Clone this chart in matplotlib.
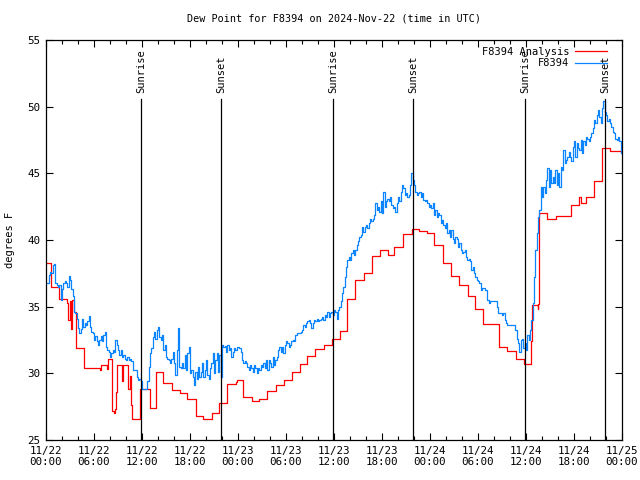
import numpy as np
import matplotlib
matplotlib.use('Agg')
import matplotlib.pyplot as plt

plt.rcParams['font.family'] = ['DejaVu Sans Mono']

# observations every 10 minutes from 11/22 00:00 UTC (deg F)
obs_day1 = [36.8, 36.8, 37.4, 37.6, 37.5, 38.1, 38.2, 36.8, 36.6, 36.5, 36.6, 35.5,
            36.3, 36.8, 36.9, 36.8, 36.5, 37.3, 37.0, 36.3, 35.8, 34.6, 34.5, 34.1,
            33.4, 33.0, 33.3, 34.1, 33.5, 33.8, 33.6, 33.9, 34.3, 33.5, 33.1, 33.0,
            32.5, 32.8, 32.4, 32.1, 32.5, 32.8, 32.4, 32.9, 33.1, 32.0, 31.75, 31.6,
            31.25, 31.5, 31.75, 31.6, 32.5, 32.1, 31.75, 31.4, 31.75, 31.25, 31.4, 31.1,
            31.0, 31.25, 31.0, 31.1, 30.9, 30.25, 30.25, 30.25, 29.75, 29.5, 29.6, 29.4,
            28.8, 28.8, 28.8, 28.8, 29.4, 30.5, 31.5, 31.9, 32.75, 33.1, 32.6, 33.25,
            33.45, 32.75, 32.5, 32.9, 31.75, 32.1, 31.25, 31.1, 31.0, 30.75, 31.1, 31.6,
            30.75, 29.9, 31.75, 33.4, 30.5, 30.4, 30.75, 30.4, 31.4, 30.25, 31.5, 32.0,
            30.0, 30.25, 29.75, 29.1, 30.1, 29.6, 30.5, 29.75, 30.1, 30.75, 29.75, 30.25,
            31.0, 29.9, 29.6, 30.4, 30.75, 31.5, 30.0, 31.0, 31.5, 30.1, 31.4, 29.75,
            32.1, 32.0, 32.05, 31.6, 32.1, 31.75, 31.9, 31.25, 31.6, 31.9, 31.75, 31.95]
obs_day2 = [32.0, 31.9, 31.6, 31.0, 30.75, 30.9, 30.75, 30.5, 30.25, 30.6, 30.4, 30.1,
            30.6, 30.4, 30.0, 30.4, 30.25, 30.6, 30.5, 30.75, 30.4, 31.0, 30.25, 31.0,
            30.75, 30.5, 31.25, 30.6, 31.0, 31.25, 31.75, 32.0, 31.6, 32.0, 31.5, 32.1,
            32.4, 32.25, 32.0, 32.1, 32.4, 32.5, 32.4, 32.9, 33.0, 33.0, 33.0, 33.1,
            33.25, 33.6, 33.5, 33.75, 33.9, 34.0, 33.75, 33.4, 33.75, 34.0, 33.9, 34.1,
            33.9, 34.0, 34.1, 34.25, 34.0, 34.4, 34.25, 34.6, 34.25, 34.5, 34.6, 34.4,
            34.75, 34.6, 34.1, 34.75, 35.0, 35.4, 36.0, 36.5, 37.25, 38.0, 38.5, 38.75,
            38.5, 39.0, 39.25, 38.9, 39.25, 39.6, 39.9, 40.25, 40.4, 41.0, 40.6, 41.0,
            41.1, 40.9, 41.25, 41.6, 41.4, 41.6, 41.9, 42.75, 42.25, 42.5, 42.1, 42.9,
            42.0, 43.6, 42.5, 42.9, 43.1, 42.9, 43.25, 42.6, 42.4, 42.5, 42.1, 42.75,
            43.25, 42.9, 43.6, 44.1, 43.9, 43.4, 43.5, 43.25, 43.4, 44.1, 45.0, 44.5,
            44.1, 43.6, 43.4, 43.5, 43.6, 43.25, 43.5, 43.0, 42.9, 43.0, 42.75, 42.5]
obs_day3 = [42.6, 42.4, 42.75, 41.9, 42.25, 41.75, 42.0, 41.9, 41.25, 41.5, 41.1, 40.9,
            41.25, 40.5, 40.75, 40.25, 40.75, 40.1, 39.75, 40.25, 40.1, 39.5, 39.75, 39.25,
            39.0, 39.1, 39.25, 38.75, 38.5, 38.6, 38.4, 37.75, 38.0, 37.5, 37.25, 37.0,
            36.9, 36.75, 36.25, 36.4, 36.4, 36.25, 36.25, 35.5, 35.25, 35.4, 35.4, 35.4,
            35.4, 35.4, 35.0, 34.5, 34.5, 34.5, 34.4, 34.5, 34.0, 33.75, 33.6, 33.6,
            33.6, 33.6, 33.6, 33.6, 33.25, 32.6, 32.25, 31.6, 32.5, 32.6, 31.9, 32.25,
            31.75, 32.9, 32.5, 33.25, 34.0, 35.25, 37.25, 39.25, 40.5, 41.75, 42.25, 44.0,
            43.25, 44.0, 43.5, 44.5, 45.4, 44.0, 45.25, 44.25, 44.75, 44.25, 45.25, 44.1,
            45.0, 44.0, 45.5, 45.25, 46.75, 45.75, 46.0, 46.25, 46.6, 46.25, 45.9, 47.0,
            47.4, 46.25, 47.25, 46.9, 46.75, 47.5, 46.5, 47.4, 47.1, 47.75, 47.6, 47.4,
            47.75, 48.0, 48.4, 49.0, 48.75, 49.4, 49.75, 49.25, 48.75, 49.9, 50.4, 49.6,
            49.4, 48.9, 49.1, 48.75, 48.5, 48.1, 48.0, 47.6, 47.5, 47.75, 47.4, 46.5]

# analysis steps: hours since 11/22 00:00 and value
ana_hours = [0.0, 0.67, 1.63, 2.6, 2.8, 2.95, 3.1, 3.25, 3.5, 3.79, 4.7, 6.75, 6.9,
             7.6, 7.75, 8.2, 8.45, 8.6, 8.7, 8.85, 9.5, 9.6, 10.3, 10.45, 10.6, 10.8,
             11.7, 13.0, 13.75, 14.67, 15.7, 16.7, 17.67, 18.7, 19.67, 20.7, 21.6,
             22.6, 23.7, 23.85, 24.67, 25.75, 26.6, 27.6, 28.7, 29.7, 30.7, 31.7, 32.6,
             33.6, 34.7, 35.7, 36.7, 37.6, 38.6, 39.7, 40.7, 41.7, 42.7, 43.5, 44.6,
             45.7, 46.6, 47.6, 48.5, 49.6, 50.6, 51.6, 52.7, 53.6, 54.6, 56.6, 57.6,
             58.7, 59.7, 60.6, 60.75, 61.45, 61.55, 61.6, 62.6, 63.7, 65.6, 66.6, 66.9,
             67.5, 68.55, 69.5, 70.5, 71.9]
ana_vals = [38.25, 36.5, 35.6, 35.3, 34.0, 35.4, 33.3, 35.5, 34.6, 31.9, 30.4, 30.25, 30.6,
            30.3, 31.1, 27.2, 27.0, 27.3, 28.6, 30.6, 29.4, 30.6, 28.8, 29.8, 27.6, 26.6,
            28.8, 27.4, 30.1, 29.3, 28.75, 28.5, 28.1, 26.8, 26.6, 27.05, 27.8,
            29.2, 29.35, 29.5, 28.2, 27.95, 28.1, 28.7, 29.1, 29.5, 30.1, 30.7, 31.3,
            31.8, 32.15, 32.55, 33.2, 35.6, 37.0, 37.55, 38.8, 39.25, 38.85, 39.45, 40.45,
            40.8, 40.65, 40.55, 39.6, 38.3, 37.3, 36.6, 35.8, 34.8, 33.7, 31.95, 31.7,
            31.1, 30.7, 32.4, 35.1, 34.8, 35.2, 42.0, 41.55, 41.8, 42.65, 43.25, 42.75,
            43.25, 44.45, 46.9, 46.65, 46.65]

sun_hours = [11.9, 21.87, 35.9, 45.87, 59.9, 69.87]
sun_names = ['Sunrise', 'Sunset', 'Sunrise', 'Sunset', 'Sunrise', 'Sunset']

tick_hours = [0, 6, 12, 18, 24, 30, 36, 42, 48, 54, 60, 66, 72]
tick_labels = ['11/22\n00:00', '11/22\n06:00', '11/22\n12:00', '11/22\n18:00',
               '11/23\n00:00', '11/23\n06:00', '11/23\n12:00', '11/23\n18:00',
               '11/24\n00:00', '11/24\n06:00', '11/24\n12:00', '11/24\n18:00',
               '11/25\n00:00']

obs = obs_day1 + obs_day2 + obs_day3
obs_hours = np.arange(len(obs)) / 6.0

fig = plt.figure(figsize=(6.4, 4.8), dpi=100)
ax = fig.add_axes([46 / 640, 40 / 480, 576 / 640, 400 / 480])

ax.plot(ana_hours, ana_vals, drawstyle='steps-post', color='#ff0000', lw=0.9,
        label='F8394 Analysis')
ax.plot(obs_hours, obs, drawstyle='steps-post', color='#0a84ff', lw=0.9,
        label='F8394')

for h, name in zip(sun_hours, sun_names):
    ax.plot([h, h], [25, 50.6], color='black', lw=0.9, zorder=3)
    ax.text(h, 51.05, name, rotation=90, ha='center', va='bottom', fontsize=7.5)

ax.set_xlim(0, 72)
ax.set_ylim(25, 55)
ax.set_xticks(tick_hours)
ax.set_xticklabels(tick_labels)
ax.set_xticks(np.arange(0, 73, 2), minor=True)
ax.set_yticks([25, 30, 35, 40, 45, 50, 55])
ax.tick_params(which='both', direction='in', top=True, right=True, labelsize=7.8,
               width=0.8, pad=4)
ax.tick_params(which='major', length=5)
ax.tick_params(which='minor', length=3)
for s in ax.spines.values():
    s.set_linewidth(0.9)

ax.set_ylabel('degrees F', fontsize=7.5, labelpad=9)
ax.set_title('Dew Point for F8394 on 2024-Nov-22 (time in UTC)', fontsize=7.3, pad=13)

ax.legend(loc='upper right', bbox_to_anchor=(0.985, 1.0), frameon=False,
          markerfirst=False, fontsize=7.5, handlelength=3.0, handletextpad=0.6,
          borderaxespad=0.25, labelspacing=0.15)

fig.savefig('out.png', dpi=100)
